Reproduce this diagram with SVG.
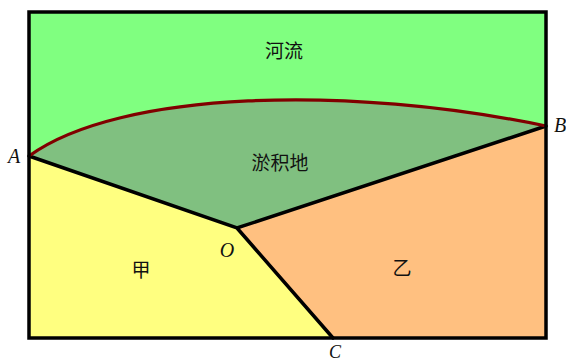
<svg xmlns="http://www.w3.org/2000/svg" width="566" height="364" viewBox="0 0 566 364">
<style>
.cjk{font-family:"Noto Sans CJK SC",sans-serif;font-size:19px;fill:#111;text-anchor:middle}
.pt{font-family:"Liberation Serif",serif;font-style:italic;font-size:20px;fill:#111;text-anchor:middle}
.edge{stroke:#000;stroke-width:3.5;fill:none;stroke-linecap:round}
</style>
<rect width="566" height="364" fill="#fff"/>
<g id="river">
<rect x="29" y="12" width="517" height="326" fill="#80ff80"/>
<text class="cjk" x="284" y="58">河流</text>
</g>
<g id="yi">
<polygon points="237,228 546,126 546,338 333,338" fill="#ffc080"/>
<text class="cjk" x="402" y="275">乙</text>
</g>
<g id="jia">
<polygon points="29,156 237,228 333,338 29,338" fill="#ffff80"/>
<text class="cjk" x="141" y="277">甲</text>
</g>
<g id="silt">
<path d="M29,156 C120,90 350,85 546,126 L237,228 Z" fill="#80c080"/>
<text class="cjk" x="280" y="170">淤积地</text>
</g>
<g id="connectors">
<path class="edge" d="M29,156 L237,228 L546,126 M237,228 L333,338"/>
<path d="M29,156 C120,90 350,85 546,126" fill="none" stroke="#800000" stroke-width="3.2"/>
<rect x="29" y="12" width="517" height="326" fill="none" stroke="#000" stroke-width="3.5"/>
</g>
<g id="labels">
<text class="pt" x="14" y="163">A</text>
<text class="pt" x="560" y="132">B</text>
<text class="pt" x="227" y="257">O</text>
<text class="pt" x="335" y="358" style="font-size:18px">C</text>
</g>
</svg>
